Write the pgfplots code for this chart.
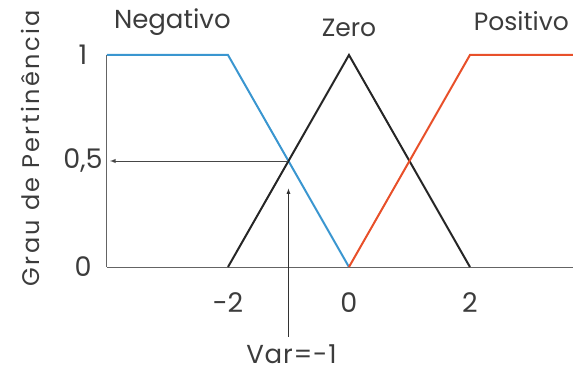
\documentclass[border=0pt]{standalone}
\usepackage{fontspec}
\setmainfont{Poppins}
\usepackage{pgfplots}
\pgfplotsset{compat=1.18}
\definecolor{negblue}{RGB}{58,150,208}
\definecolor{posred}{RGB}{232,80,42}
\definecolor{txtgray}{RGB}{60,60,60}
\definecolor{axgray}{RGB}{100,100,100}
\begin{document}
\begin{tikzpicture}
\begin{axis}[
  scale only axis,
  width=467pt, height=212pt,
  xmin=-4, xmax=3.72, ymin=0, ymax=1,
  axis x line*=bottom, axis y line*=left,
  axis line style={axgray, line width=1pt},
  xtick={-2,0,2}, xticklabels={-2,0,2},
  ytick={0,0.5,1}, yticklabels={0,{0,5},1},
  major tick length=0pt,
  tick label style={font=\fontsize{27}{30}\selectfont, text=txtgray},
  xticklabel style={yshift=-22pt},
  yticklabel style={anchor=center, xshift=-24pt},
  /pgf/number format/assume math mode=true,
  clip=false,
]
\addplot[negblue, line width=2pt] coordinates {(-4,1) (-2,1) (0,0)};
\addplot[black!85, line width=2pt] coordinates {(-2,0) (0,1) (2,0)};
\addplot[posred, line width=2pt] coordinates {(0,0) (2,1) (3.72,1)};
\draw[axgray!70!black, line width=0.9pt, -latex] (axis cs:-1,0.5) -- (axis cs:-3.95,0.5);
\draw[black!80, line width=0.8pt, -latex] (axis cs:-1,-0.33) -- (axis cs:-1,0.37);
\node[font=\fontsize{26}{28}\selectfont, text=txtgray] at (axis cs:-2.92,1.155) {Negativo};
\node[font=\fontsize{25}{28}\selectfont, text=txtgray] at (axis cs:0,1.13) {Zero};
\node[font=\fontsize{25}{28}\selectfont, text=txtgray] at (axis cs:2.85,1.16) {Positivo};
\node[font=\fontsize{26}{28}\selectfont\addfontfeature{LetterSpace=3}, text=txtgray] at (axis cs:-0.95,-0.41) {Var=-1};
\node[rotate=90, font=\fontsize{24}{28}\selectfont\addfontfeature{LetterSpace=10}, text=txtgray] at (-77pt,119pt) {Grau de Pertinência};
\end{axis}
\pgfresetboundingbox
\path[use as bounding box] (-107pt,-105pt) rectangle (466pt,267pt);
\end{tikzpicture}
\end{document}
